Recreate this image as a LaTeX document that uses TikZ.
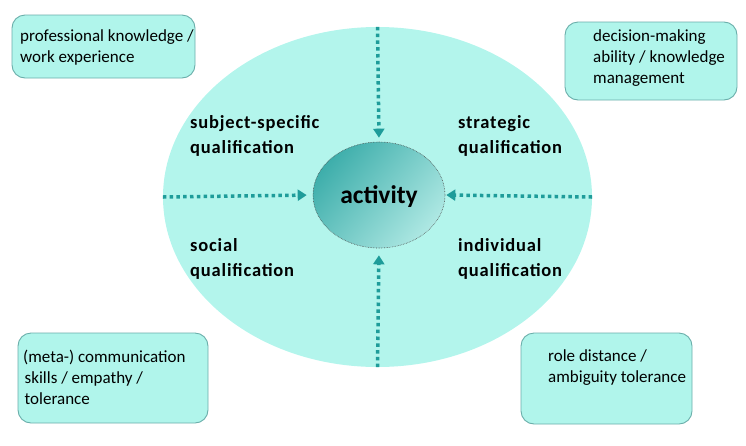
\documentclass[tikz,border=0pt]{standalone}
\usepackage{fontspec}
\setmainfont{Carlito}
\newfontfamily\qualfont[LetterSpace=4.5]{Carlito}
\usetikzlibrary{arrows.meta,shapes.geometric}
\definecolor{bigfill}{HTML}{B3F5EC}
\definecolor{boxfill}{HTML}{B0F5EB}
\definecolor{boxline}{HTML}{6AAEAA}
\definecolor{arrowc}{HTML}{1E9C9A}
\definecolor{innerdark}{HTML}{3EAEAB}
\definecolor{innerlight}{HTML}{AEE8E3}
\begin{document}
\begin{tikzpicture}[x=1pt,y=-1pt,
  infobox/.style={draw=boxline, line width=0.9pt, fill=boxfill, rounded corners=13pt, inner sep=0pt},
  infotext/.style={anchor=north west, inner sep=0pt, align=left, font=\fontsize{17}{21}\selectfont},
  qualtext/.style={anchor=north west, inner sep=0pt, align=left, font=\fontsize{18.5}{25}\qualfont\bfseries},
  dotarrow/.style={draw=arrowc, line width=3.5pt, dash pattern=on 3.5pt off 3.3pt, -{Triangle[length=9pt,width=11pt,fill=arrowc]}},
]
\useasboundingbox (0,0) rectangle (746,445);
% outer ellipse
\node[ellipse, fill=bigfill, minimum width=429pt, minimum height=340pt, inner sep=0pt] (outer) at (377.5,197) {};
% info boxes
\node[infobox, minimum width=183pt, minimum height=63pt] (b1) at (103.5,46.5) {};
\node[infobox, minimum width=172pt, minimum height=78pt] (b2) at (651,61) {};
\node[infobox, minimum width=190pt, minimum height=90pt] (b3) at (113,378) {};
\node[infobox, minimum width=171pt, minimum height=91pt] (b4) at (606.5,378.5) {};
\node[infotext] (t1) at (20,29) {professional knowledge /\\work experience};
\node[infotext] (t2) at (593,29) {decision-making\\ability / knowledge\\management};
\node[infotext] (t3) at (23,350) {(meta-) communication\\\hspace*{1.5pt}skills / empathy /\\\hspace*{1.5pt}tolerance};
\node[infotext] (t4) at (548,349) {role distance /\\ambiguity tolerance};
% qualification labels
\node[qualtext] (q1) at (190,115) {subject-specific\\qualification};
\node[qualtext] (q2) at (458,115) {strategic\\qualification};
\node[qualtext] (q3) at (190,238) {social\\qualification};
\node[qualtext] (q4) at (458,238) {individual\\qualification};
% inner ellipse
\node[ellipse, minimum width=132pt, minimum height=106pt, inner sep=0pt,
  left color=innerdark, right color=innerlight, shading angle=50,
  draw=black!70, densely dotted, line width=0.6pt, text height=16pt, text depth=0pt,
  font=\fontsize{25.5}{28}\selectfont\bfseries] (act) at (379,195) {activity};
% arrows
\draw[dotarrow, shorten >=4pt] (outer.north) -- (act.north);
\draw[dotarrow, shorten >=7pt] (outer.south) -- (act.south);
\draw[dotarrow, shorten >=6pt] (outer.west) -- (act.west);
\draw[dotarrow, shorten >=1pt] (outer.east) -- (act.east);
\end{tikzpicture}
\end{document}
